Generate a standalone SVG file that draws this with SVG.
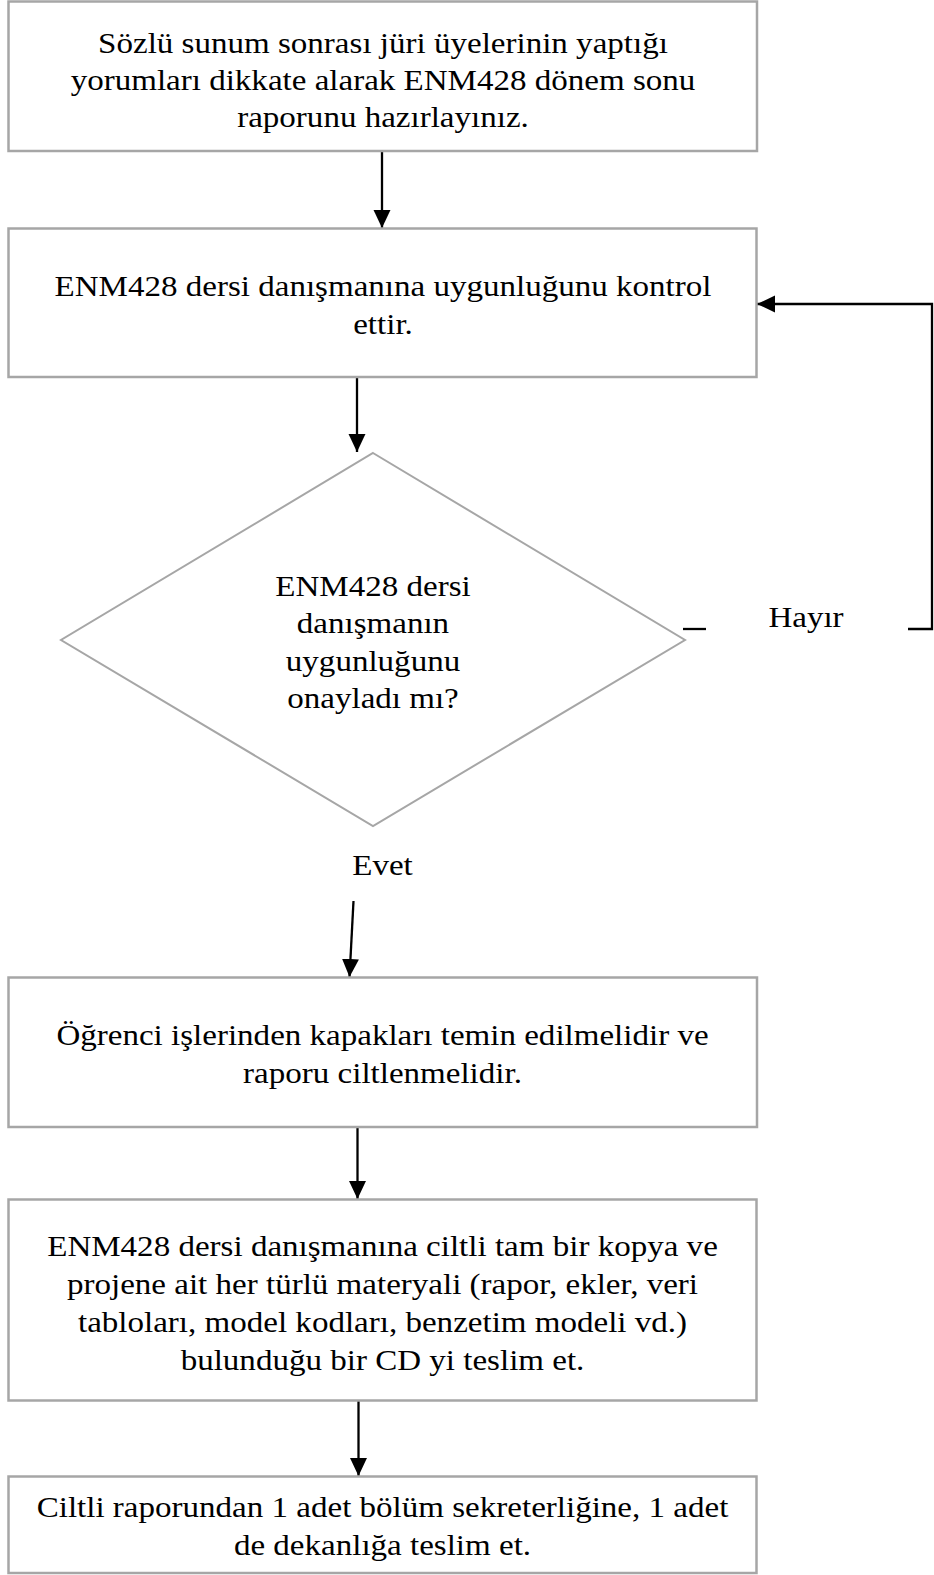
<svg xmlns="http://www.w3.org/2000/svg" width="934" height="1575" viewBox="0 0 934 1575">
<style>
.box{fill:#ffffff;stroke:#a6a6a6;stroke-width:2.5}
.t{font-family:"Liberation Serif","Times New Roman",serif;font-size:29.5px;fill:#000000;text-anchor:middle}
.c{fill:none;stroke:#000000;stroke-width:2.3}
</style>
<defs>
<marker id="ah" markerUnits="userSpaceOnUse" markerWidth="18" markerHeight="18" viewBox="0 0 17 16" refX="17" refY="8" orient="auto">
<path d="M0,0 L17,8 L0,16 z" fill="#000000"/>
</marker>
</defs>
<rect width="934" height="1575" fill="#ffffff"/>
<g id="connectors">
<line class="c" x1="382" y1="151" x2="382" y2="228" marker-end="url(#ah)"/>
<line class="c" x1="357" y1="377" x2="357" y2="452" marker-end="url(#ah)"/>
<line class="c" x1="683" y1="629" x2="706" y2="629"/>
<polyline class="c" points="908,629 932,629 932,304 757,304" marker-end="url(#ah)"/>
<line class="c" x1="353.5" y1="901" x2="349.5" y2="977" marker-end="url(#ah)"/>
<line class="c" x1="357.5" y1="1127" x2="357.5" y2="1199" marker-end="url(#ah)"/>
<line class="c" x1="358.5" y1="1401" x2="358.5" y2="1476" marker-end="url(#ah)"/>
<g transform="translate(806 0) scale(1.12 1)"><text class="t" x="0" y="627">Hayır</text></g>
<g transform="translate(382.5 0) scale(1.12 1)"><text class="t" x="0" y="875">Evet</text></g>
</g>
<g id="n1">
<rect class="box" x="8.5" y="1.5" width="748.5" height="149.5"/>
<g transform="translate(383 0) scale(1.12 1)">
<text class="t" x="0" y="53">Sözlü sunum sonrası jüri üyelerinin yaptığı</text>
<text class="t" x="0" y="90">yorumları dikkate alarak ENM428 dönem sonu</text>
<text class="t" x="0" y="127">raporunu hazırlayınız.</text>
</g>
</g>
<g id="n2">
<rect class="box" x="8.5" y="228.5" width="748" height="148.5"/>
<g transform="translate(383 0) scale(1.12 1)">
<text class="t" x="0" y="296">ENM428 dersi danışmanına uygunluğunu kontrol</text>
<text class="t" x="0" y="334">ettir.</text>
</g>
</g>
<g id="n3">
<polygon points="373,453 685,640 373,826 61,640" fill="#ffffff" stroke="#a6a6a6" stroke-width="2"/>
<g transform="translate(373 0) scale(1.12 1)">
<text class="t" x="0" y="596">ENM428 dersi</text>
<text class="t" x="0" y="633.5">danışmanın</text>
<text class="t" x="0" y="671">uygunluğunu</text>
<text class="t" x="0" y="708.5">onayladı mı?</text>
</g>
</g>
<g id="n4">
<rect class="box" x="8.5" y="977.5" width="748.5" height="149.5"/>
<g transform="translate(382.5 0) scale(1.12 1)">
<text class="t" x="0" y="1045">Öğrenci işlerinden kapakları temin edilmelidir ve</text>
<text class="t" x="0" y="1083">raporu ciltlenmelidir.</text>
</g>
</g>
<g id="n5">
<rect class="box" x="8.5" y="1199.5" width="748" height="201"/>
<g transform="translate(382.5 0) scale(1.12 1)">
<text class="t" x="0" y="1256">ENM428 dersi danışmanına ciltli tam bir kopya ve</text>
<text class="t" x="0" y="1294">projene ait her türlü materyali (rapor, ekler, veri</text>
<text class="t" x="0" y="1332">tabloları, model kodları, benzetim modeli vd.)</text>
<text class="t" x="0" y="1370">bulunduğu bir CD yi teslim et.</text>
</g>
</g>
<g id="n6">
<rect class="box" x="8.5" y="1476.5" width="748" height="96.5"/>
<g transform="translate(382.5 0) scale(1.12 1)">
<text class="t" x="0" y="1517">Ciltli raporundan 1 adet bölüm sekreterliğine, 1 adet</text>
<text class="t" x="0" y="1555">de dekanlığa teslim et.</text>
</g>
</g>
</svg>
